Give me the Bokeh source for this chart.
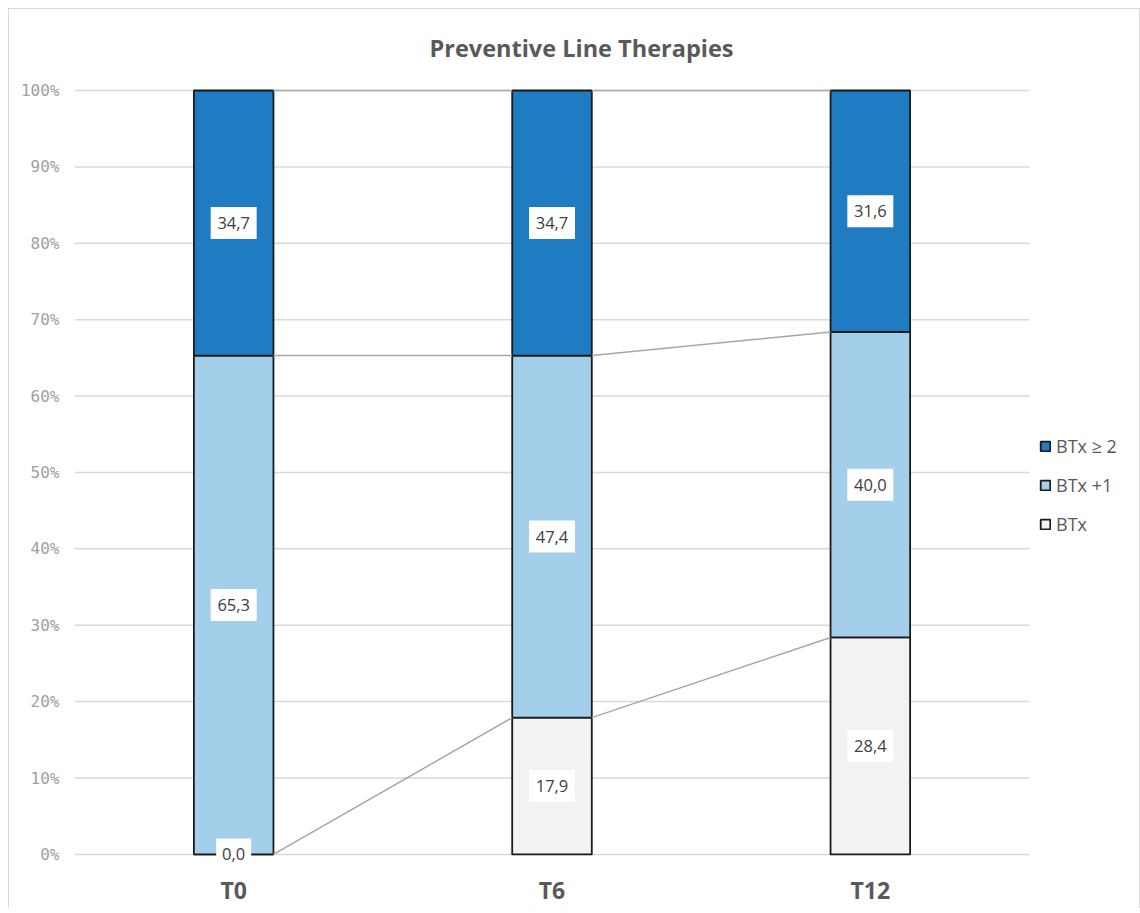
from bokeh.plotting import figure
from bokeh.models import Range1d, ColumnDataSource, LabelSet, Label, Legend, LegendItem, FixedTicker
from bokeh.core.properties import value
from bokeh.embed import file_html
from bokeh.resources import INLINE

title_text = "Preventive Line Therapies"
categories = ["T0", "T6", "T12"]
series_names = ["BTx", "BTx +1", "BTx \u2265 2"]
btx = [0.0, 17.9, 28.4]
btx_plus1 = [65.3, 47.4, 40.0]
btx_ge2 = [34.7, 34.7, 31.6]
y_ticks = [0, 10, 20, 30, 40, 50, 60, 70, 80, 90, 100]
y_tick_labels = [f"{t}%" for t in y_ticks]

colors = ["#f2f2f2", "#a3cfea", "#1f7bc2"]
series = [btx, btx_plus1, btx_ge2]
bar_w = 0.25

# frame covers the title and legend areas too, so nothing gets clipped
FW = 1065
x_end = -0.5 + 3 * FW / 955.0
PX_PER_UNIT = 764 / 100.0
y_top = 100 + 81 / PX_PER_UNIT
y_bot = -2.5
FH = int(round((y_top - y_bot) * PX_PER_UNIT))

p = figure(frame_width=FW, frame_height=FH, output_backend="svg", toolbar_location=None,
           x_range=Range1d(-0.5, x_end), y_range=Range1d(y_bot, y_top),
           min_border_left=65, min_border_right=0, min_border_top=0, min_border_bottom=32)
p.styles = {"margin-left": "8px", "margin-top": "8px",
            "border-left": "1px solid #d9d9d9", "border-top": "1px solid #d9d9d9",
            "border-right": "1px solid #d9d9d9"}
p.outline_line_color = None

title = Label(x=507, y=FH - 38, x_units="screen", y_units="screen", text=title_text,
              text_align="center", text_baseline="middle", text_font="Open Sans",
              text_font_size="23.5px", text_font_style="bold", text_color="#595959")
p.add_layout(title)

# horizontal gridlines over the category area only
p.segment(x0=[-0.5] * len(y_ticks), x1=[2.5] * len(y_ticks), y0=y_ticks, y1=y_ticks,
          line_color="#d9d9d9", line_width=1.5, level="underlay")

xs = list(range(len(categories)))
renderers = []
bottoms = [0.0] * len(categories)
for name, vals, col in zip(series_names, series, colors):
    tops = [b + v for b, v in zip(bottoms, vals)]
    src = ColumnDataSource(dict(x=xs, bottom=bottoms, top=tops))
    r = p.vbar(x="x", bottom="bottom", top="top", width=bar_w, source=src,
               fill_color=col, line_color="#1a1a1a", line_width=1.8)
    renderers.append((name, r))
    bottoms = tops

# connector lines between series boundaries
cum1 = btx
cum2 = [a + b for a, b in zip(btx, btx_plus1)]
cum3 = [a + b + c for a, b, c in zip(btx, btx_plus1, btx_ge2)]
for cum in (cum1, cum2, cum3):
    p.segment(x0=[i + bar_w / 2 for i in xs[:-1]], y0=cum[:-1],
              x1=[i + 1 - bar_w / 2 for i in xs[:-1]], y1=cum[1:],
              line_color="#a6a6a6", line_width=1.5)

# data labels
lx, ly, lt, lw = [], [], [], []
bottoms = [0.0] * len(categories)
for vals in series:
    for i, v in enumerate(vals):
        lx.append(i)
        ly.append(bottoms[i] + v / 2)
        txt = f"{v:.1f}".replace(".", ",")
        lt.append(txt)
        lw.append(11 * len(txt) + 2)
    bottoms = [b + v for b, v in zip(bottoms, vals)]
lsrc = ColumnDataSource(dict(x=lx, y=ly, text=lt, w=lw))
p.rect(x="x", y="y", width="w", height=32, width_units="screen", height_units="screen",
       source=lsrc, fill_color="white", line_color=None)
labels = LabelSet(x="x", y="y", text="text", source=lsrc, text_align="center",
                  text_baseline="middle", text_font=value("Open Sans"),
                  text_font_size=value("16.5px"), text_color=value("#404040"))
p.add_layout(labels)

# axes
p.xaxis.ticker = FixedTicker(ticks=xs)
p.xaxis.major_label_overrides = {i: c for i, c in zip(xs, categories)}
p.xaxis.major_label_text_font = "Open Sans"
p.xaxis.major_label_text_font_style = "bold"
p.xaxis.major_label_text_font_size = "23px"
p.xaxis.major_label_text_color = "#595959"
p.xaxis.major_label_standoff = 0
p.xaxis.axis_line_color = None
p.xaxis.major_tick_line_color = None
p.xaxis.minor_tick_line_color = None
p.xaxis.major_tick_out = 0
p.xaxis.major_tick_in = 0

p.yaxis.ticker = FixedTicker(ticks=y_ticks)
p.yaxis.major_label_overrides = {t: l for t, l in zip(y_ticks, y_tick_labels)}
p.yaxis.major_label_text_font = "DejaVu Sans Mono"
p.yaxis.major_label_text_font_size = "16px"
p.yaxis.major_label_text_color = "#a0a0a0"
p.yaxis.major_label_standoff = 15
p.yaxis.axis_line_color = None
p.yaxis.major_tick_line_color = None
p.yaxis.minor_tick_line_color = None
p.yaxis.major_tick_out = 0
p.yaxis.major_tick_in = 0

p.xgrid.grid_line_color = None
p.ygrid.grid_line_color = None

legend = Legend(items=[LegendItem(label=n, renderers=[r]) for n, r in reversed(renderers)],
                location=(965, 337))
legend.label_text_font = "Open Sans"
legend.label_text_font_size = "18px"
legend.label_text_color = "#595959"
legend.glyph_width = 12
legend.glyph_height = 12
legend.label_height = 20
legend.spacing = 15
legend.label_standoff = 5
legend.margin = 0
legend.padding = 0
legend.border_line_color = None
legend.background_fill_alpha = 0
p.add_layout(legend)

open("out.html", "w").write(file_html(p, INLINE))
